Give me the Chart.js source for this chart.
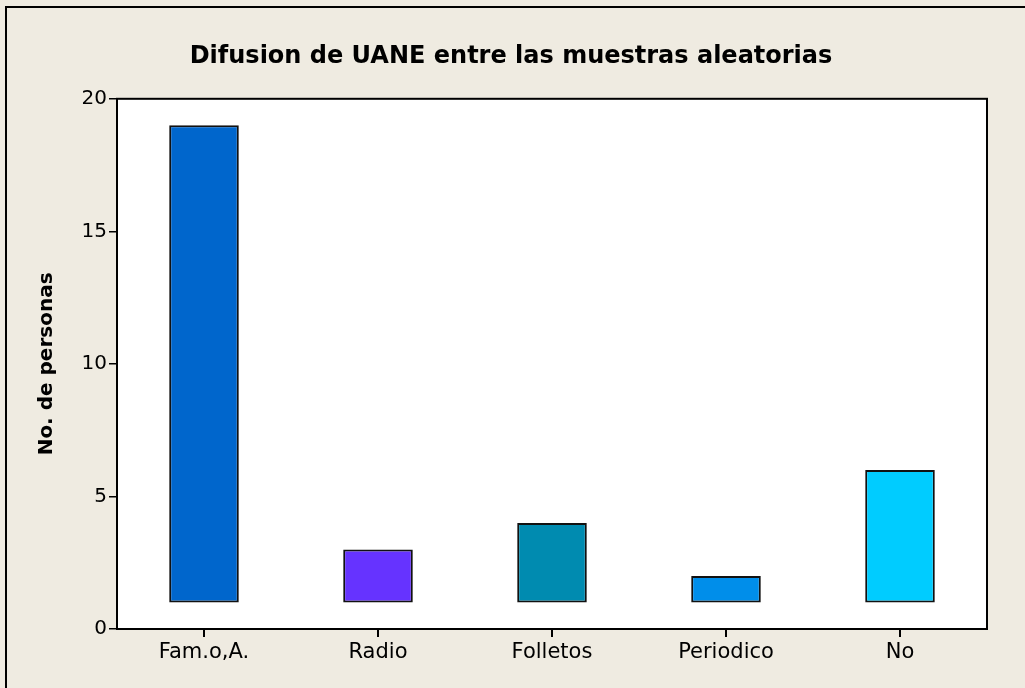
<!DOCTYPE html>
<html lang="es">
<head>
    <meta charset="UTF-8">
    <title>Difusion de UANE entre las muestras aleatorias</title>
    <script src="https://cdn.jsdelivr.net/npm/chart.js"></script>
    <style>
        html, body {
            margin: 0;
            padding: 0;
            background: #efebe1;
        }
        .frame {
            position: absolute;
            left: 5px;
            top: 6px;
            width: 1020px;
            height: 682px;
            border-top: 2px solid #000;
            border-left: 2px solid #000;
            box-sizing: border-box;
            pointer-events: none;
        }
        .wrap {
            position: absolute;
            left: 0;
            top: 0;
            width: 1025px;
            height: 688px;
        }
    </style>
</head>
<body>
    <div class="wrap"><canvas id="grafica"></canvas></div>
    <div class="frame"></div>

    <script>
        // Datos
        const categorias = ['Fam.o,A.', 'Radio', 'Folletos', 'Periodico', 'No'];
        const personas = [19, 3, 4, 2, 6];
        const colores = ['#0066cc', '#6633ff', '#008bb0', '#008eea', '#00ccff'];
        const baseBarras = 1;
        const marcasY = [0, 5, 10, 15, 20];

        // Fondo blanco y marco del area de trazado
        const areaPlot = {
            id: 'areaPlot',
            beforeDraw(chart) {
                const { ctx, chartArea: a } = chart;
                ctx.save();
                ctx.fillStyle = '#fff';
                ctx.fillRect(a.left, a.top, a.right - a.left, a.bottom - a.top);
                ctx.restore();
            },
            afterDraw(chart) {
                const { ctx, chartArea: a } = chart;
                ctx.save();
                ctx.strokeStyle = '#000';
                ctx.lineWidth = 2;
                ctx.strokeRect(a.left, a.top, a.right - a.left, a.bottom - a.top);
                ctx.restore();
            }
        };

        const ctx = document.getElementById('grafica').getContext('2d');
        new Chart(ctx, {
            type: 'bar',
            data: {
                labels: categorias,
                datasets: [{
                    data: personas,
                    base: baseBarras,
                    backgroundColor: colores,
                    borderColor: '#111',
                    borderWidth: 2,
                    borderSkipped: false,
                    barPercentage: 0.4,
                    categoryPercentage: 1.0
                }]
            },
            options: {
                responsive: true,
                maintainAspectRatio: false,
                animation: false,
                layout: { padding: { left: 35, right: 38, top: 0, bottom: 0 } },
                plugins: {
                    legend: { display: false },
                    tooltip: { enabled: false },
                    title: {
                        display: true,
                        text: 'Difusion de UANE entre las muestras aleatorias',
                        color: '#000',
                        font: { family: 'DejaVu Sans', size: 24, weight: 'bold' },
                        padding: { top: 42, bottom: 28 }
                    }
                },
                scales: {
                    x: {
                        afterFit(s) { s.height = 59; },
                        border: { display: false },
                        grid: {
                            offset: false,
                            drawOnChartArea: false,
                            drawTicks: true,
                            tickLength: 8,
                            tickColor: '#000',
                            lineWidth: 2
                        },
                        ticks: {
                            color: '#000',
                            padding: 3,
                            font: { family: 'DejaVu Sans', size: 21 }
                        }
                    },
                    y: {
                        min: 0,
                        max: 20,
                        afterFit(s) { s.width = 82; },
                        afterBuildTicks(s) { s.ticks = marcasY.map(v => ({ value: v })); },
                        border: { display: false },
                        grid: {
                            drawOnChartArea: false,
                            drawTicks: true,
                            tickLength: 8,
                            tickColor: '#000',
                            lineWidth: 1.5
                        },
                        ticks: {
                            color: '#000',
                            padding: 2,
                            font: { family: 'DejaVu Sans', size: 20 }
                        },
                        title: {
                            display: true,
                            text: 'No. de personas',
                            color: '#000',
                            padding: { top: 0, bottom: 0 },
                            font: { family: 'DejaVu Sans', size: 20, weight: 'bold' }
                        }
                    }
                }
            },
            plugins: [areaPlot]
        });
    </script>
</body>
</html>
